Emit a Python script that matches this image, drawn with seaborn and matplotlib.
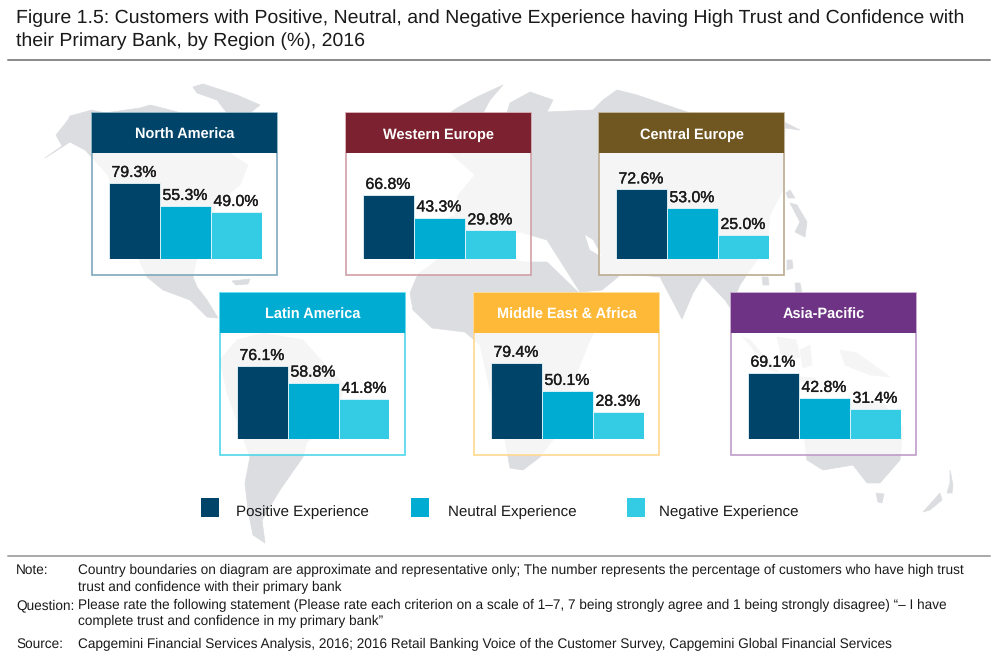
import matplotlib
matplotlib.use('Agg')
import matplotlib.pyplot as plt
from matplotlib.patches import Polygon, Rectangle
import matplotlib.patheffects as pe
import pandas as pd
import seaborn as sns

# Values
regions = ['North America', 'Western Europe', 'Central Europe',
           'Latin America', 'Middle East & Africa', 'Asia-Pacific']
experiences = ['Positive Experience', 'Neutral Experience', 'Negative Experience']
positive = [79.3, 66.8, 72.6, 76.1, 79.4, 69.1]
neutral = [55.3, 43.3, 53.0, 58.8, 50.1, 42.8]
negative = [49.0, 29.8, 25.0, 41.8, 28.3, 31.4]

title_lines = ['Figure 1.5: Customers with Positive, Neutral, and Negative Experience having High Trust and Confidence with',
               'their Primary Bank, by Region (%), 2016']
notes = [('Note:', 'Country boundaries on diagram are approximate and representative only; The number represents the percentage of customers who have high trust', 574),
         ('', 'trust and confidence with their primary bank', 591),
         ('Question:', 'Please rate the following statement (Please rate each criterion on a scale of 1\u20137, 7 being strongly agree and 1 being strongly disagree) \u201c\u2013 I have', 609),
         ('', 'complete trust and confidence in my primary bank\u201d', 625),
         ('Source:', 'Capgemini Financial Services Analysis, 2016; 2016 Retail Banking Voice of the Customer Survey, Capgemini Global Financial Services', 648)]

# Styling
bar_colors = ['#00446a', '#00acd2', '#34cce4']
header_colors = ['#00446a', '#7b212f', '#705621', '#00acd2', '#feb938', '#6e3384']
border_colors = ['#7fa9bd', '#cf9fa6', '#bcab8f', '#4fd6ec', '#ffd98f', '#bf9cc9']
panel_left = [92, 346, 599, 220, 474, 731]
panel_top = [113, 113, 113, 293, 293, 293]
panel_w = 185
panel_h = 162
header_h = 40
map_color = '#dcdde0'

# Rough outlines of the background world map, in pixels
land = [
    # North America
    [(45, 158), (62, 146), (56, 135), (68, 120), (70, 116), (92, 110), (105, 113), (140, 108), (150, 105), (170, 110), (200, 118),
     (225, 150), (248, 165), (240, 185), (215, 205), (210, 235), (196, 262), (193, 277), (197, 287), (207, 300),
     (218, 318), (207, 317), (190, 300), (163, 290), (147, 277), (125, 230), (108, 175), (85, 150), (70, 142)],
    # Greenland
    [(193, 87), (203, 84), (237, 95), (260, 105), (250, 113), (227, 113), (217, 100), (197, 93)],
    # Caribbean
    [(232, 281), (250, 279), (248, 284), (236, 285)],
    # South America
    [(263, 333), (303, 340), (330, 370), (345, 385), (335, 420), (307, 442), (303, 457), (280, 490), (262, 520),
     (265, 543), (253, 535), (248, 510), (245, 483), (250, 457), (227, 393), (220, 360), (237, 340)],
    # Africa
    [(410, 293), (418, 274), (440, 258), (470, 252), (500, 258), (525, 262), (547, 262), (578, 292), (600, 322),
     (590, 340), (570, 390), (553, 440), (540, 457), (523, 470), (510, 468), (505, 440), (490, 390), (480, 345),
     (465, 332), (432, 328), (413, 310)],
    # Eurasia
    [(432, 245), (432, 225), (455, 215), (458, 195), (475, 175), (447, 150), (447, 115), (457, 108), (477, 97), (503, 85),
     (490, 100), (483, 113), (483, 150), (507, 150), (507, 113), (510, 103), (530, 92), (553, 100), (547, 112), (593, 110), (603, 100), (617, 90), (637, 95),
     (690, 113), (740, 116), (784, 122), (800, 130), (785, 128), (783, 190), (770, 215), (767, 247), (750, 270), (740, 285),
     (737, 292), (745, 330), (725, 300), (703, 277), (693, 293), (682, 319), (660, 277), (620, 273), (618, 277),
     (602, 290), (580, 292), (547, 240), (520, 232), (490, 240), (460, 235), (445, 250)],
    # Japan
    [(790, 203), (797, 205), (807, 222), (805, 237), (795, 232), (800, 222)],
    [(786, 193), (790, 190), (795, 198), (788, 198)],
    [(787, 260), (792, 260), (793, 268), (787, 270)],
    [(762, 277), (768, 277), (769, 285), (763, 285)],
    [(795, 283), (800, 283), (802, 293), (796, 293)],
    # Islands of south east Asia
    [(743, 337), (750, 340), (778, 372), (770, 370)],
    [(777, 337), (796, 340), (800, 357), (783, 362)],
    [(800, 350), (810, 345), (812, 365), (803, 368)],
    [(840, 350), (857, 353), (890, 377), (870, 375), (845, 365)],
    [(775, 375), (815, 378), (815, 382), (780, 381)],
    # Australia
    [(807, 460), (803, 427), (830, 412), (850, 402), (883, 403), (903, 427), (900, 460), (880, 483), (867, 483),
     (853, 465), (823, 470)],
    [(876, 493), (884, 494), (882, 503), (878, 502)],
    # New Zealand
    [(950, 470), (953, 485), (952, 493), (947, 493), (950, 483)],
    [(923, 512), (940, 493), (942, 500), (930, 510)],
]
# Persian Gulf cut out of the land
gulf = [(585, 235), (593, 240), (602, 257), (590, 250)]

sns.set_theme(style='white')
plt.rcParams['font.family'] = ['Liberation Sans', 'DejaVu Sans']
plt.rcParams['text.hinting'] = 'no_hinting'

fig = plt.figure(figsize=(10, 6.6), dpi=100)
fig.patch.set_facecolor('white')

# Full figure axes in pixels, for everything that is not a bar
base = fig.add_axes([0, 0, 1, 1])
base.set_xlim(0, 1000)
base.set_ylim(660, 0)
base.axis('off')

for shape in land:
    base.add_patch(Polygon(shape, closed=True, fc=map_color, ec=map_color, lw=0.5, joinstyle='round'))
base.add_patch(Polygon(gulf, closed=True, fc='white', ec='none'))

# Title and rules
base.text(16, 18, title_lines[0], fontsize=14.04, color='#1a1a1a', va='center')
base.text(16, 41, title_lines[1], fontsize=14.04, color='#1a1a1a', va='center')
base.plot([8, 990], [60, 60], color='#8a8a8a', lw=1.4)
base.plot([8, 990], [556, 556], color='#a8a8a8', lw=1.4)

df = pd.DataFrame({'region': regions, experiences[0]: positive,
                   experiences[1]: neutral, experiences[2]: negative})
df = df.melt(id_vars='region', var_name='experience', value_name='share')

for i, region in enumerate(regions):
    x0 = panel_left[i]
    y0 = panel_top[i]
    base.add_patch(Rectangle((x0, y0), panel_w, panel_h, fc='white', ec='none', alpha=0.72))
    base.add_patch(Rectangle((x0, y0), panel_w, panel_h, fc='none', ec=border_colors[i], lw=1.2))
    base.add_patch(Rectangle((x0, y0), panel_w, header_h, fc=header_colors[i], ec='none'))
    base.text(x0 + panel_w / 2, y0 + header_h / 2 + 6, region, color='white', fontsize=10.45,
              fontweight='bold', ha='center', va='baseline')

    # bars: 153 px wide, baseline 16 px over the panel bottom, 0.958 px per point
    ax_h = panel_h - header_h - 16
    ax = fig.add_axes([(x0 + 16.5) / 1000, (660 - (y0 + panel_h - 16)) / 660, 153 / 1000, ax_h / 660])
    sns.barplot(data=df[df['region'] == region], x='experience', y='share', hue='experience',
                order=experiences, hue_order=experiences, palette=bar_colors, width=1, saturation=1,
                edgecolor='#e8f6fa', linewidth=0.6, legend=False, ax=ax)
    ax.set_xlim(-0.5, 2.5)
    ax.set_ylim(0, ax_h / 0.958)
    ax.axis('off')
    ax.patch.set_alpha(0)
    for bars in ax.containers:
        labels = ax.bar_label(bars, fmt='%.1f%%', padding=2, fontsize=11.4, color='#1a1a1a')
        for label in labels:
            label.set_path_effects([pe.withStroke(linewidth=0.25, foreground='#1a1a1a')])

# Legend
legend_boxes = [201, 411, 627]
legend_texts = [236, 448, 659]
for i, name in enumerate(experiences):
    base.add_patch(Rectangle((legend_boxes[i], 498), 18, 19, fc=bar_colors[i], ec='none'))
    base.text(legend_texts[i], 516, name, fontsize=10.9, color='#1a1a1a', va='baseline')

# Notes
for label, line, y in notes:
    if label:
        base.text(16, y, label, fontsize=9.8, color='#1a1a1a', va='baseline')
    base.text(78, y, line, fontsize=9.8, color='#1a1a1a', va='baseline')

fig.savefig('out.png', dpi=100)
